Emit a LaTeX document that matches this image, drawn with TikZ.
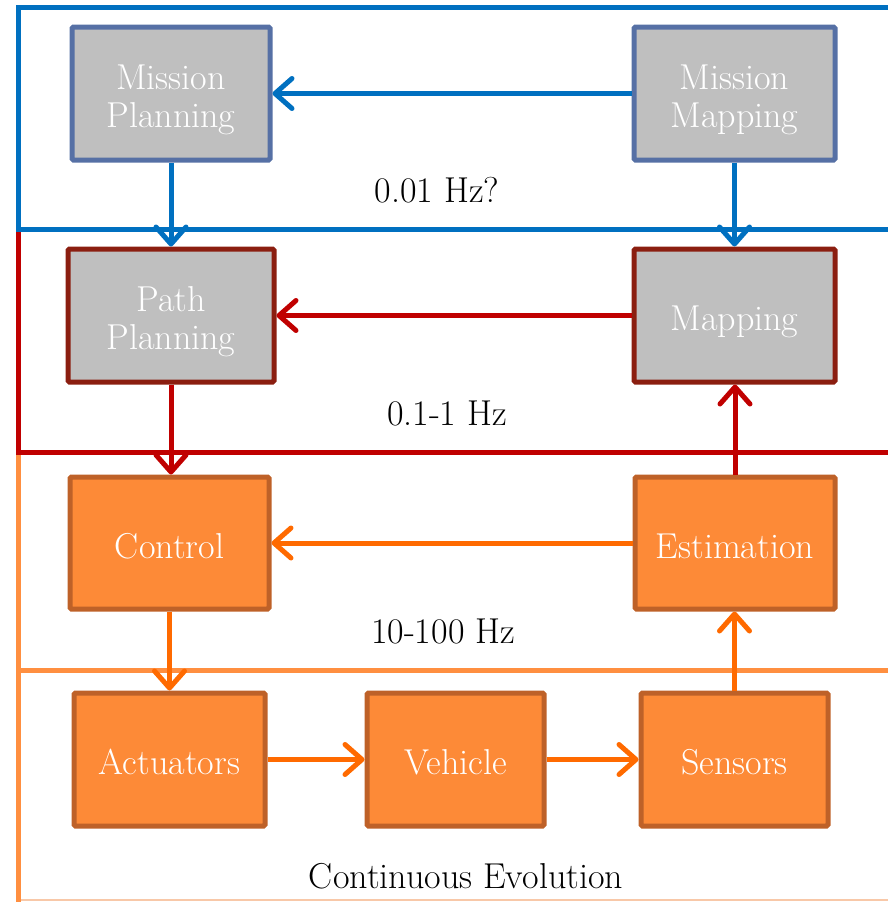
\documentclass[tikz,border=0pt]{standalone}
\usetikzlibrary{arrows.meta}
\definecolor{frameblue}{HTML}{0070C0}
\definecolor{framered}{HTML}{C00000}
\definecolor{frameorange}{HTML}{FF8F40}
\definecolor{boxgray}{HTML}{BFBFBF}
\definecolor{edgeblue}{HTML}{5670A5}
\definecolor{edgered}{HTML}{8B1E10}
\definecolor{boxorange}{HTML}{FD8A37}
\definecolor{edgeorange}{HTML}{BE6128}
\definecolor{arroworange}{HTML}{FF6A00}
\definecolor{floorline}{HTML}{F8C8A8}
\tikzset{
  blk/.style={draw, line width=5pt, rounded corners=1.5pt, text=white, align=center,
    font=\fontsize{36}{38}\selectfont, inner sep=0pt},
  graybox/.style={blk, fill=boxgray},
  orangebox/.style={blk, fill=boxorange, draw=edgeorange},
  flow/.style={line width=5pt, -{Straight Barb[length=17pt,width=30pt,line cap=round,line join=round]}},
  band/.style={line width=5pt},
  rate/.style={font=\fontsize{36}{39}\selectfont, inner sep=0pt}
}
% block caption: centred lines, set slightly below the middle of the block
\newcommand{\boxtext}[1]{\raisebox{-14pt}[0pt][0pt]{\begin{tabular}{@{}c@{}}#1\end{tabular}}}
\begin{document}
\begin{tikzpicture}[x=1pt,y=-1pt]
\useasboundingbox (0,0) rectangle (888,902);
% rate bands
\draw[floorline, line width=1.5pt] (18,900) -- (888,900);
\draw[frameorange, band] (18,452) -- (18,902);
\draw[frameorange, band] (18,670) -- (888,670);
\draw[framered, band] (18,229) -- (18,452) -- (888,452);
\draw[frameblue, band] (888,7) -- (18,7) -- (18,229) -- (888,229);

% blocks
\node[graybox, draw=edgeblue, minimum width=198, minimum height=133] (mp) at (171,93.5) {\boxtext{Mission\\Planning}};
\node[graybox, draw=edgeblue, minimum width=201, minimum height=133] (mm) at (734.5,93.5) {\boxtext{Mission\\Mapping}};
\node[graybox, draw=edgered, minimum width=206, minimum height=133] (pp) at (171,315.5) {\boxtext{Path\\Planning}};
\node[graybox, draw=edgered, minimum width=201, minimum height=133] (map) at (734.5,315.5) {\boxtext{Mapping}};
\node[orangebox, minimum width=199, minimum height=132] (ctrl) at (169.5,543) {\boxtext{Control}};
\node[orangebox, minimum width=200, minimum height=132] (est) at (735,543) {\boxtext{Estimation}};
\node[orangebox, minimum width=191, minimum height=133] (act) at (169.5,759.5) {\boxtext{Actuators}};
\node[orangebox, minimum width=177, minimum height=133] (veh) at (455.5,759.5) {\boxtext{Vehicle}};
\node[orangebox, minimum width=187, minimum height=133] (sen) at (734.5,759.5) {\boxtext{Sensors}};

% rate labels
\node[rate] (r1) at (437,190) {0.01 Hz?};
\node[rate] (r2) at (447,413) {0.1-1 Hz};
\node[rate] (r3) at (443,631) {10-100 Hz};
\node[rate] (r4) at (466,876) {Continuous Evolution};

% connectors
\draw[flow, frameblue] (mm.west) -- (mp.east);
\draw[flow, frameblue] (mp.south) -- (pp.north);
\draw[flow, frameblue] (mm.south) -- (map.north);
\draw[flow, framered] (map.west) -- (pp.east);
\draw[flow, framered] (pp.south) -- (pp.south |- ctrl.north);
\draw[flow, framered] (est.north) -- (est.north |- map.south);
\draw[flow, arroworange] (est.west) -- (ctrl.east);
\draw[flow, arroworange] (ctrl.south) -- (ctrl.south |- act.north);
\draw[flow, arroworange] (act.east) -- (veh.west);
\draw[flow, arroworange] (veh.east) -- (sen.west);
\draw[flow, arroworange] (sen.north) -- (sen.north |- est.south);
\end{tikzpicture}
\end{document}
